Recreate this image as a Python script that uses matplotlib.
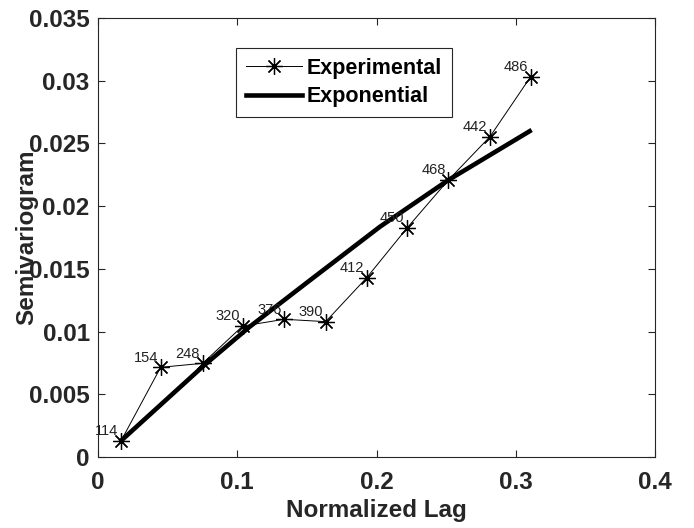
import matplotlib
matplotlib.use("Agg")
import matplotlib.pyplot as plt
from matplotlib.lines import Line2D

plt.rcParams['font.family'] = ['Liberation Sans', 'DejaVu Sans']

# Experimental semivariogram (normalized lag, value, pair count label)
exp_lag = [0.0165, 0.0450, 0.0752, 0.1039, 0.1338, 0.1635, 0.1930, 0.2221, 0.2516, 0.2815, 0.3107]
exp_val = [0.00128, 0.00715, 0.00747, 0.01044, 0.01098, 0.01079, 0.01430, 0.01828, 0.02208, 0.02554, 0.03032]
exp_labels = ['114', '154', '248', '320', '376', '390', '412', '450', '468', '442', '486']

# Exponential model curve
mod_lag = [0.0158, 0.0756, 0.1090, 0.1500, 0.2025, 0.2516, 0.3114]
mod_val = [0.00122, 0.00725, 0.01039, 0.01390, 0.01836, 0.02208, 0.02607]

xticks = [0, 0.1, 0.2, 0.3, 0.4]
xtick_labels = ['0', '0.1', '0.2', '0.3', '0.4']
yticks = [0, 0.005, 0.01, 0.015, 0.02, 0.025, 0.03, 0.035]
ytick_labels = ['0', '0.005', '0.01', '0.015', '0.02', '0.025', '0.03', '0.035']

fig = plt.figure(figsize=(6.94, 5.28), dpi=100)
ax = fig.add_axes([98/694, 1-457/528, (655-98)/694, (457-18)/528])

ast = (8, 2, 0)
ax.plot(exp_lag, exp_val, color='black', linewidth=0.7, marker=ast,
        markersize=12, markeredgewidth=0.9, label='Experimental', zorder=3)
ax.plot(mod_lag, mod_val, color='black', linewidth=3.3, label='Exponential',
        solid_capstyle='butt', solid_joinstyle='round', zorder=2)

for x, y, t in zip(exp_lag, exp_val, exp_labels):
    ax.annotate(t, (x, y), xytext=(-2, 2), textcoords='offset points',
                ha='right', va='bottom', fontsize=10.5, color='#222222')

ax.set_xlim(0, 0.4)
ax.set_ylim(0, 0.035)
ax.set_xticks(xticks)
ax.set_xticklabels(xtick_labels)
ax.set_yticks(yticks)
ax.set_yticklabels(ytick_labels)
ax.tick_params(axis='both', direction='in', length=5, width=0.8, top=True, right=True,
               labelsize=17.5, colors='#262626')
ax.tick_params(axis='x', pad=10)
ax.tick_params(axis='y', pad=6)
for lab in ax.get_xticklabels() + ax.get_yticklabels():
    lab.set_fontweight('bold')
for sp in ax.spines.values():
    sp.set_color('#262626')
    sp.set_linewidth(0.8)

ax.set_xlabel('Normalized Lag', fontsize=17.5, fontweight='bold', color='#262626', labelpad=4)
fig.text(27/694, 1-237/528, 'Semivariogram', rotation=90, fontsize=17.5,
         fontweight='bold', color='#262626', ha='center', va='center')

handles = [Line2D([], [], color='black', linewidth=0.7, marker=ast, markersize=12,
                  markeredgewidth=0.9),
           Line2D([], [], color='black', linewidth=3.3)]
leg = ax.legend(handles, ['Experimental', 'Exponential'], loc='upper left',
                bbox_to_anchor=(0.2478, 0.9317), fancybox=False, framealpha=1,
                edgecolor='#262626', prop={'weight': 'bold', 'size': 15.5},
                handlelength=2.6, handletextpad=0.25, borderpad=0.45,
                labelspacing=0.35, borderaxespad=0)
leg.get_frame().set_linewidth(0.8)

fig.savefig('out.png', dpi=100)
